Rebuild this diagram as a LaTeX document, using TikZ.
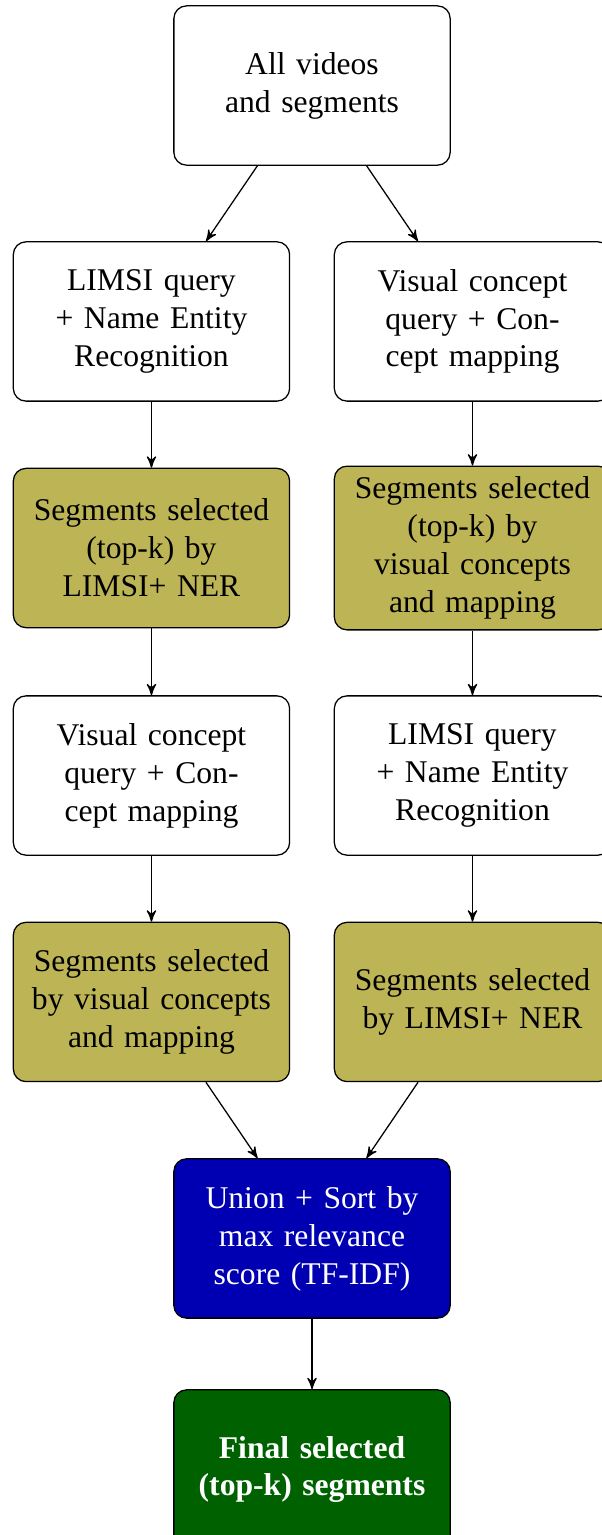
\documentclass[tikz,border=0pt]{standalone}
\usepackage{fontspec}
\setmainfont{Liberation Serif}
\usepackage{xcolor}
\usepackage{tikz}
\usetikzlibrary{arrows,calc}
\definecolor{selcolor}{RGB}{189,181,85}
\definecolor{unioncolor}{RGB}{0,0,178}
\definecolor{finalcolor}{RGB}{0,97,0}

\begin{document}
\begin{tikzpicture}[
  box/.style={draw, rounded corners, align=center, text width=2.75cm,
    minimum width=3.07cm, minimum height=1.77cm},
  sel/.style={box, fill=selcolor},
  uni/.style={box, fill=unioncolor, text=white},
  fin/.style={box, fill=finalcolor, text=white, font=\bfseries},
  link/.style={-stealth'}]
\useasboundingbox (0cm,0cm) rectangle (6.678cm,-17.056cm);
\node[box] (all) at (3.467cm,-0.950cm) {All videos\\and segments};
\node[box] (ner1) at (1.683cm,-3.572cm) {LIMSI query\\+ Name Entity\\Recognition};
\node[box] (vis1) at (5.250cm,-3.572cm) {Visual concept\\query + Con-\\cept mapping};
\node[sel] (sel1) at (1.683cm,-6.089cm) {Segments selected\\(top-k) by\\LIMSI+ NER};
\node[sel] (sel2) at (5.250cm,-6.089cm) {Segments selected\\(top-k) by\\visual concepts\\and mapping};
\node[box] (vis2) at (1.683cm,-8.617cm) {Visual concept\\query + Con-\\cept mapping};
\node[box] (ner2) at (5.250cm,-8.617cm) {LIMSI query\\+ Name Entity\\Recognition};
\node[sel] (sel3) at (1.683cm,-11.133cm) {Segments selected\\by visual concepts\\and mapping};
\node[sel] (sel4) at (5.250cm,-11.133cm) {Segments selected\\by LIMSI+ NER};
\node[uni] (union) at (3.467cm,-13.761cm) {Union + Sort by\\max relevance\\score (TF-IDF)};
\node[fin] (final) at (3.467cm,-16.328cm) {Final selected\\(top-k) segments};
\draw[link] (all) -- (ner1);
\draw[link] (all) -- (vis1);
\draw[link] (ner1) -- (sel1);
\draw[link] (vis1) -- (sel2);
\draw[link] (sel1) -- (vis2);
\draw[link] (sel2) -- (ner2);
\draw[link] (vis2) -- (sel3);
\draw[link] (ner2) -- (sel4);
\draw[link] (sel3) -- (union);
\draw[link] (sel4) -- (union);
\draw[link] (union) -- (final);
\end{tikzpicture}
\end{document}
